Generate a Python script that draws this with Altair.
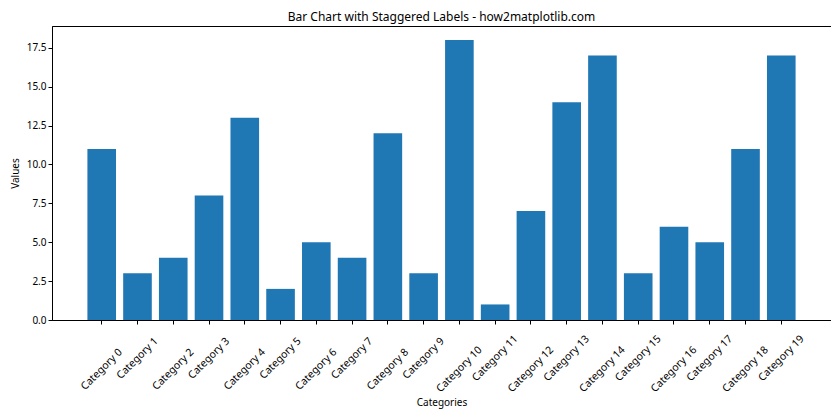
import altair as alt
import pandas as pd

categories = [f"Category {i}" for i in range(20)]
values = [11, 3, 4, 8, 13, 2, 5, 4, 12, 3, 18, 1, 7, 14, 17, 3, 6, 5, 11, 17]

df = pd.DataFrame({"Categories": categories, "Values": values})

FONT = "Noto Sans"

chart = alt.Chart(df).mark_bar(color="#1f77b4").encode(
    x=alt.X(
        "Categories:N",
        sort=categories,
        scale=alt.Scale(paddingInner=0.2, paddingOuter=0.99),
        axis=alt.Axis(
            title="Categories",
            labelAngle=-45,
            labelAlign="center",
            labelBaseline="middle",
            labelFontSize=10.5,
            labelPadding={
                "condition": {
                    "test": "parseInt(replace(datum.value, 'Category ', '')) % 2 == 0",
                    "value": 45,
                },
                "value": 34,
            },
            tickSize=4,
            titleY=82,
            titleBaseline="middle",
        ),
    ),
    y=alt.Y(
        "Values:Q",
        scale=alt.Scale(domain=[0, 18.9], nice=False),
        axis=alt.Axis(
            title="Values",
            values=[0, 2.5, 5, 7.5, 10, 12.5, 15, 17.5],
            format=".1f",
            tickSize=4,
            labelPadding=2,
            grid=False,
            titleX=-37,
            titleY=147,
            titleBaseline="middle",
        ),
    ),
).properties(
    width=779,
    height=294,
    title=alt.Title(
        "Bar Chart with Staggered Labels - how2matplotlib.com",
        fontSize=12,
        fontWeight="normal",
        font=FONT,
        offset=2,
        color="black",
    ),
    autosize=alt.AutoSizeParams(type="none"),
    padding={"left": 44, "top": 18, "right": 0, "bottom": 90},
).configure_view(
    stroke="black", strokeWidth=1
).configure_axis(
    labelFont=FONT,
    titleFont=FONT,
    labelFontSize=10,
    titleFontSize=10,
    titleFontWeight="normal",
    labelColor="black",
    titleColor="black",
    domainColor="black",
    tickColor="black",
    domainWidth=1,
    tickWidth=1,
    grid=False,
)

chart.save("out.html", embed_options={"renderer": "svg", "actions": False})
